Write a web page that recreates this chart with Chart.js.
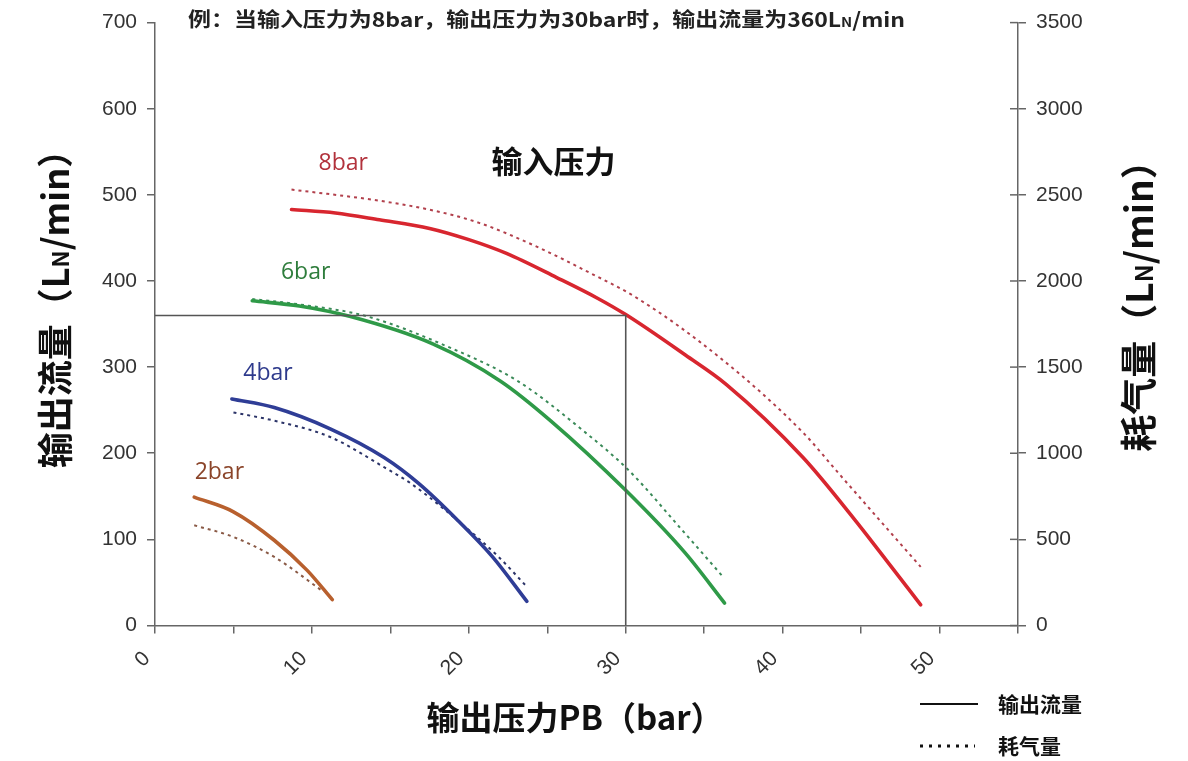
<!DOCTYPE html>
<html><head><meta charset="utf-8">
<script src="https://cdn.jsdelivr.net/npm/chart.js@4/dist/chart.umd.min.js"></script>
<style>html,body{margin:0;padding:0;background:#fff;}canvas{display:block;}</style>
</head><body>
<canvas id="c" width="1188" height="761"></canvas>
<script>
// ---- data ----
const xTickValues = [0, 10, 20, 30, 40, 50];
const yLeftTicks = [0, 100, 200, 300, 400, 500, 600, 700];
const yRightTicks = [0, 500, 1000, 1500, 2000, 2500, 3000, 3500];

const flow8X = [8.7, 11.5, 14.3, 17.5, 20.0, 22.4, 25.6, 28.2, 30.0, 33.8, 36.4, 41.3, 44.5, 46.6, 48.8];
const flow8Y = [483, 479, 471, 461, 448, 432, 404, 380, 361, 314, 280, 195, 125, 76, 24];
const air8X  = [8.7, 14.3, 17.5, 20.7, 24.5, 27.5, 30.7, 36.0, 41.3, 43.6, 46.2, 48.8];
const air8Y  = [2531, 2466, 2414, 2336, 2192, 2057, 1902, 1555, 1120, 880, 610, 340];

const flow6X = [6.2, 9.2, 12.4, 17.7, 22.0, 25.2, 30.0, 33.8, 36.3];
const flow6Y = [377, 371, 359, 327, 284, 238, 157, 84, 26];
const air6X  = [6.2, 9.2, 13.5, 18.8, 23.1, 27.3, 30.2, 33.6, 36.2];
const air6Y  = [1895, 1864, 1795, 1613, 1420, 1130, 900, 553, 283];

const flow4X = [4.9, 7.6, 11.2, 14.6, 16.8, 19.3, 21.5, 23.7];
const flow4Y = [263, 253, 228, 195, 165, 122, 80, 28];
const air4X  = [5.0, 7.6, 11.2, 14.6, 16.3, 19.8, 21.9, 23.7];
const air4Y  = [1237, 1189, 1093, 919, 825, 570, 398, 225];

const flow2X = [2.5, 5.0, 7.6, 9.7, 11.3];
const flow2Y = [149, 132, 99, 64, 30];
const air2X  = [2.5, 5.0, 7.6, 10.6];
const air2Y  = [582, 514, 398, 205];

const refX = [0, 30, 30];
const refY = [360, 360, 0];

const curveLabels = ['8bar', '6bar', '4bar', '2bar'];

// ---- helpers ----
const pts = (xs, ys) => xs.map((v, i) => ({x: v, y: ys[i]}));
const CJK = '"Noto Sans CJK SC", "Noto Sans", sans-serif';
const LAT = '"Liberation Sans", Arial, sans-serif';
const axisColor = '#666';

function solid(data, color) {
  return {data, borderColor: color, borderWidth: 3.6, yAxisID: 'y', showLine: true,
    pointRadius: 0, cubicInterpolationMode: 'monotone', borderCapStyle: 'round'};
}
function dotted(data, color) {
  return {data, borderColor: color, borderWidth: 2, borderDash: [3, 4], yAxisID: 'y2', showLine: true,
    pointRadius: 0, cubicInterpolationMode: 'monotone'};
}

function drawRich(ctx, segs, cx, cy, rot) {
  ctx.save();
  ctx.translate(cx, cy);
  ctx.rotate(rot);
  let total = 0;
  segs.forEach(s => { ctx.font = s.f; s.w = ctx.measureText(s.t).width; total += s.w; });
  let x = -total / 2;
  ctx.textBaseline = 'alphabetic';
  ctx.textAlign = 'left';
  segs.forEach(s => { ctx.font = s.f; ctx.fillStyle = s.c || '#111'; ctx.fillText(s.t, x, s.dy || 0); x += s.w; });
  ctx.restore();
}

const annot = {
  id: 'annot',
  afterDraw(chart) {
    const ctx = chart.ctx;
    const xs = chart.scales.x, ys = chart.scales.y, y2 = chart.scales.y2;
    ctx.save();
    // inner half of the right-axis tick marks
    ctx.strokeStyle = axisColor; ctx.lineWidth = 1.5;
    y2.ticks.forEach(t => {
      const py = y2.getPixelForValue(t.value);
      ctx.beginPath(); ctx.moveTo(y2.left - 8, py); ctx.lineTo(y2.left, py); ctx.stroke();
    });

    // axis titles
    drawRich(ctx, [{t: '输出流量（L', f: 'bold 36px ' + CJK}, {t: 'N', f: 'bold 23px ' + CJK}, {t: '/min）', f: 'bold 36px ' + CJK}], 69, 300, -Math.PI / 2);
    drawRich(ctx, [{t: '耗气量（L', f: 'bold 37px ' + CJK}, {t: 'N', f: 'bold 24px ' + CJK}, {t: '/min）', f: 'bold 37px ' + CJK}], 1153, 297, -Math.PI / 2);
    drawRich(ctx, [{t: '输出压力PB（bar）', f: 'bold 33px ' + CJK}], 575, 730, 0);

    // top note
    ctx.save();
    ctx.font = 'bold 20px ' + CJK;
    ctx.fillStyle = '#222';
    ctx.textBaseline = 'middle'; ctx.textAlign = 'left';
    const p1 = '例：当输入压力为8bar，输出压力为30bar时，输出流量为360L', p2 = 'N', p3 = '/min';
    const w1 = ctx.measureText(p1).width, w3 = ctx.measureText(p3).width;
    ctx.font = 'bold 13px ' + CJK; const w2 = ctx.measureText(p2).width;
    const sx = 717 / (w1 + w2 + w3);
    ctx.translate(188, 19); ctx.scale(sx, 1);
    ctx.font = 'bold 20px ' + CJK; ctx.fillText(p1, 0, 0);
    ctx.font = 'bold 13px ' + CJK; ctx.fillText(p2, w1, 3);
    ctx.font = 'bold 20px ' + CJK; ctx.fillText(p3, w1 + w2, 0);
    ctx.restore();

    // input-pressure heading
    ctx.font = 'bold 31px ' + CJK; ctx.fillStyle = '#111';
    ctx.textAlign = 'center'; ctx.textBaseline = 'middle';
    ctx.fillText('输入压力', xs.getPixelForValue(25.4), ys.getPixelForValue(539));

    // curve labels
    const lab = [
      {t: curveLabels[0], x: 12.0, y: 536, c: '#b2323c'},
      {t: curveLabels[1], x: 9.6, y: 410, c: '#2e7d3c'},
      {t: curveLabels[2], x: 7.2, y: 293, c: '#2e3a8c'},
      {t: curveLabels[3], x: 4.1, y: 178, c: '#8b452a'}
    ];
    ctx.font = '23px "Open Sans", "Noto Sans", sans-serif';
    lab.forEach(l => { ctx.fillStyle = l.c; ctx.fillText(l.t, xs.getPixelForValue(l.x), ys.getPixelForValue(l.y)); });

    // legend
    ctx.strokeStyle = '#111'; ctx.lineWidth = 2.2;
    ctx.beginPath(); ctx.moveTo(920, 704); ctx.lineTo(978, 704); ctx.stroke();
    ctx.lineWidth = 3.2; ctx.setLineDash([3, 6]);
    ctx.beginPath(); ctx.moveTo(920, 746); ctx.lineTo(975, 746); ctx.stroke();
    ctx.setLineDash([]);
    ctx.font = 'bold 21px ' + CJK; ctx.fillStyle = '#111'; ctx.textAlign = 'left';
    ctx.fillText('输出流量', 998, 704);
    ctx.fillText('耗气量', 998, 746);
    ctx.restore();
  }
};

new Chart(document.getElementById('c'), {
  type: 'scatter',
  data: {
    datasets: [
      {data: pts(refX, refY), borderColor: '#555', borderWidth: 1.6, showLine: true, pointRadius: 0, yAxisID: 'y', tension: 0},
      solid(pts(flow8X, flow8Y), '#d8262f'),
      dotted(pts(air8X, air8Y), '#b2404c'),
      solid(pts(flow6X, flow6Y), '#2f9a48'),
      dotted(pts(air6X, air6Y), '#3a8a58'),
      solid(pts(flow4X, flow4Y), '#2f3d96'),
      dotted(pts(air4X, air4Y), '#2c3468'),
      solid(pts(flow2X, flow2Y), '#b8602e'),
      dotted(pts(air2X, air2Y), '#8a5a46')
    ]
  },
  options: {
    responsive: false, animation: false, devicePixelRatio: 1,
    layout: {padding: {top: 20, left: 0, right: 0, bottom: 0}},
    plugins: {legend: {display: false}, tooltip: {enabled: false}},
    scales: {
      x: {
        type: 'linear', min: 0, max: 55,
        afterFit: s => { s.height = 135.5; },
        ticks: {stepSize: 5, autoSkip: false, minRotation: 45, maxRotation: 45, padding: 13, labelOffset: -8,
          color: '#333', font: {family: LAT, size: 21},
          callback: v => xTickValues.includes(v) ? String(v) : ''},
        grid: {drawOnChartArea: false, color: axisColor, lineWidth: 1.5, tickLength: 8},
        border: {color: axisColor, width: 1.5}
      },
      y: {
        type: 'linear', position: 'left', min: 0, max: 700,
        afterFit: s => { s.width = 155; },
        afterBuildTicks: s => { s.ticks = yLeftTicks.map(v => ({value: v})); },
        ticks: {color: '#333', font: {family: LAT, size: 21}, padding: 10, callback: v => String(v)},
        grid: {drawOnChartArea: false, color: axisColor, lineWidth: 1.5, tickLength: 8},
        border: {color: axisColor, width: 1.5}
      },
      y2: {
        type: 'linear', position: 'right', min: 0, max: 3500,
        afterFit: s => { s.width = 170; },
        afterBuildTicks: s => { s.ticks = yRightTicks.map(v => ({value: v})); },
        ticks: {color: '#333', font: {family: LAT, size: 21}, padding: 10, callback: v => String(v)},
        grid: {drawOnChartArea: false, color: axisColor, lineWidth: 1.5, tickLength: 8},
        border: {color: axisColor, width: 1.5}
      }
    }
  },
  plugins: [annot]
});
</script>
</body></html>
